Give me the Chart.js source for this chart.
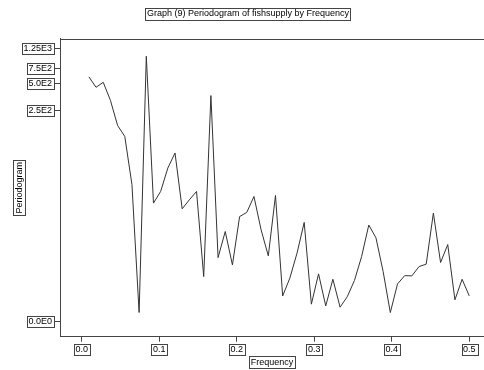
<!DOCTYPE html>
<html>
<head>
<meta charset="utf-8">
<script src="https://cdn.jsdelivr.net/npm/chart.js@4/dist/chart.umd.min.js"></script>
<style>
  html, body { margin: 0; padding: 0; background: #fff; }
  #wrap { width: 484px; height: 370px; }
</style>
</head>
<body>
<div id="wrap"><canvas id="periodogramChart"></canvas></div>
<script>
// periodogram values, frequency = k / 108
const periodogram = [
  601, 457, 521, 325, 168, 126, 35, 0.27, 1031, 21.2,
  29.1, 54.5, 81.3, 18.1, 23.2, 29.1, 2.25, 368, 4.34, 9.56,
  3.41, 14.6, 16.4, 25.4, 10.0, 4.59, 26.1, 0.96, 2.12, 5.0,
  12.4, 0.58, 2.49, 0.51, 2.03, 0.46, 0.92, 1.93, 4.49, 11.5,
  7.95, 2.70, 0.27, 1.68, 2.33, 2.31, 3.22, 3.50, 16.1, 3.69,
  6.51, 0.77, 2.03, 0.96
];
const seriesLength = 108;
const xTickValues = [0, 0.1, 0.2, 0.3, 0.4, 0.5];
const yTickValues = [0, 250, 500, 750, 1250];
const yTickLabels = ['0.0E0', '2.5E2', '5.0E2', '7.5E2', '1.25E3'];

const FONT = 'Arial, "Liberation Sans", sans-serif';
const INK = '#333';

// y axis in the picture is compressed like log(1 + v)
const toAxis = (v) => Math.log1p(v);

const points = periodogram.map((v, i) => ({ x: (i + 1) / seriesLength, y: toAxis(v) }));

// draws the thin boxes SPSS puts around every text, plus the top frame line
const boxPlugin = {
  id: 'boxes',
  afterDraw(chart) {
    const ctx = chart.ctx;
    const area = chart.chartArea;
    ctx.save();
    ctx.strokeStyle = '#444';
    ctx.lineWidth = 1;
    ctx.beginPath();
    ctx.moveTo(area.left, Math.round(area.top) + 0.5);
    ctx.lineTo(chart.width, Math.round(area.top) + 0.5);
    ctx.stroke();

    ctx.font = '9px ' + FONT;
    const box = (cx, cy, w, h) => {
      ctx.strokeRect(Math.round(cx - w / 2) + 0.5, Math.round(cy - h / 2) + 0.5, Math.round(w), Math.round(h));
    };

    const xs = chart.scales.x;
    xs.ticks.forEach((t, i) => {
      const w = ctx.measureText(t.label).width + 3;
      box(xs.getPixelForTick(i), 349.5, w, 11);
    });
    const ys = chart.scales.y;
    ys.ticks.forEach((t, i) => {
      const w = ctx.measureText(t.label).width + 3;
      const right = area.left - 7;
      box(right - w / 2 + 1, ys.getPixelForTick(i), w, 11);
    });

    // titles
    const tw = ctx.measureText('Graph (9) Periodogram of fishsupply by Frequency').width + 3;
    box(248, 13.5, tw, 12);
    const fw = ctx.measureText('Frequency').width + 3;
    box((area.left + area.right) / 2, 362, fw, 12);
    const pw = ctx.measureText('Periodogram').width + 3;
    box(19, (area.top + area.bottom) / 2, 12, pw);
    ctx.restore();
  }
};

new Chart(document.getElementById('periodogramChart'), {
  type: 'line',
  data: {
    datasets: [{
      label: 'Periodogram',
      data: points,
      borderColor: INK,
      borderWidth: 1,
      pointRadius: 0,
      tension: 0,
      fill: false
    }]
  },
  options: {
    responsive: true,
    maintainAspectRatio: false,
    animation: false,
    layout: { padding: { left: 12, right: 0, top: 0, bottom: 0 } },
    plugins: {
      legend: { display: false },
      tooltip: { enabled: false },
      title: {
        display: true,
        text: 'Graph (9) Periodogram of fishsupply by Frequency',
        color: '#000',
        font: { family: FONT, size: 9, weight: 'normal' },
        padding: { top: 8, bottom: 20 }
      }
    },
    scales: {
      x: {
        type: 'linear',
        min: -0.028,
        max: 0.519,
        afterBuildTicks: (scale) => { scale.ticks = xTickValues.map((v) => ({ value: v })); },
        afterFit: (scale) => { scale.height = 33.3; },
        ticks: {
          color: '#000',
          font: { family: FONT, size: 9 },
          padding: 2,
          maxRotation: 0,
          callback: (v) => v.toFixed(1)
        },
        grid: { display: true, drawOnChartArea: false, drawTicks: true, tickLength: 5, color: '#444' },
        border: { display: true, color: '#444' },
        title: {
          display: true,
          text: 'Frequency',
          color: '#000',
          font: { family: FONT, size: 9 },
          padding: { top: 0, bottom: 2 }
        }
      },
      y: {
        type: 'linear',
        min: -0.393,
        max: 7.395,
        afterBuildTicks: (scale) => { scale.ticks = yTickValues.map((v) => ({ value: toAxis(v) })); },
        afterFit: (scale) => { scale.width = 48; },
        ticks: {
          color: '#000',
          font: { family: FONT, size: 9 },
          padding: 3,
          callback: (v, i) => yTickLabels[i]
        },
        grid: { display: true, drawOnChartArea: false, drawTicks: true, tickLength: 5, color: '#444' },
        border: { display: true, color: '#444' },
        title: {
          display: true,
          text: 'Periodogram',
          color: '#000',
          font: { family: FONT, size: 9 },
          padding: { top: 2, bottom: 0 }
        }
      }
    }
  },
  plugins: [boxPlugin]
});
</script>
</body>
</html>
